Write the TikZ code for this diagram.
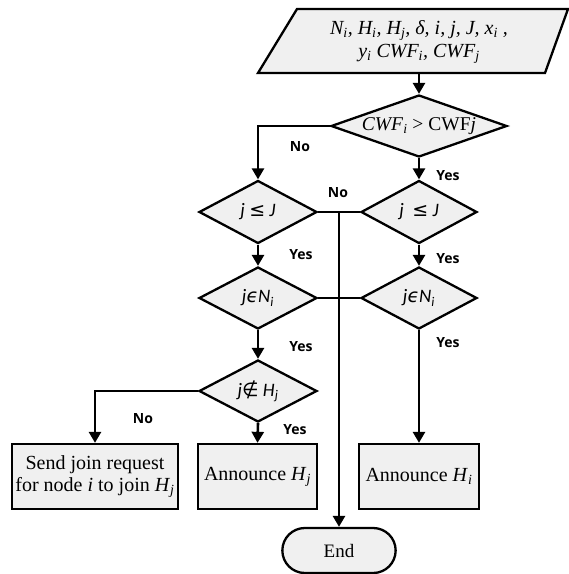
\documentclass[tikz,border=0pt]{standalone}
\usepackage{fontspec}
\setmainfont{Liberation Serif}
\newfontfamily\lblfont{Open Sans}
\newfontfamily\dmdfont{Carlito}
\newfontfamily\symfont{DejaVu Sans}
\usetikzlibrary{shapes.geometric,shapes.misc,arrows.meta}

\newcommand{\vsub}[2]{\textit{#1}\textsubscript{\textit{#2}}}

\tikzset{
  dmd/.style={diamond, draw, line width=2.3pt, fill=black!6, aspect=1.87,
    minimum width=118pt, minimum height=63pt, inner sep=0pt,
    font=\dmdfont\itshape\fontsize{19}{21}\selectfont},
  box/.style={rectangle, draw, line width=2.3pt, fill=black!6, minimum height=65pt,
    inner sep=2pt, align=center, font=\fontsize{20}{22}\selectfont},
  lbl/.style={font=\lblfont\bfseries\fontsize{14}{16}\selectfont},
  lin/.style={line width=2.6pt},
  arr/.style={line width=2.6pt, -{Triangle[length=11pt,width=12pt]}},
}

\begin{document}
\begin{tikzpicture}[x=1pt,y=-1pt]

\useasboundingbox (0,0) rectangle (569,574);

% input
\draw[line width=2.3pt, fill=black!6] (258,73) -- (297,9) -- (568,9) -- (545,73) -- cycle;
\node[minimum height=64pt, align=center, font=\itshape\fontsize{20}{23}\selectfont] (input) at (419,42)
  {\vsub{N}{i}, \vsub{H}{i}, \vsub{H}{j}, δ, \textit{i}, \textit{j}, \textit{J}, \vsub{x}{i} ,\\
   \vsub{y}{i} \vsub{CWF}{i}, \vsub{CWF}{j}};

% tests
\node[dmd, aspect=2.8, minimum width=176pt, minimum height=62pt, font=\fontsize{19.5}{21}\selectfont] (cwf) at (419,126)
  {\vsub{CWF}{i} > CWF\textit{j}};
\node[dmd] (lj) at (258,212) {j {\symfont ≤} J};
\node[dmd, minimum width=116pt] (rj) at (419,212) {j \ {\symfont ≤} J};
\node[dmd, minimum height=62pt] (lN) at (258,298) {j{\symfont ϵ}N\textsubscript{i}};
\node[dmd, minimum width=116pt, minimum height=62pt] (rN) at (419,298) {j{\symfont ϵ}N\textsubscript{i}};
\node[dmd, minimum height=62pt] (lH) at (258,391) {j{\symfont ∉} H\textsubscript{j}};

% actions
\node[box, minimum width=166pt] (join) at (95,476.5)
  {Send join request\\for node \textit{i} to join \vsub{H}{j}};
\node[box, minimum width=119pt] (annj) at (257.5,476.5) {Announce \vsub{H}{j}};
\node[box, minimum width=120pt] (anni) at (419,476.5) {Announce \vsub{H}{i}};
\node[rounded rectangle, draw, line width=2.3pt, fill=black!6, minimum width=120pt,
  minimum height=45pt, font=\fontsize{19}{21}\selectfont] (end) at (339,550.5) {End};

\coordinate (nojoin) at (339,212);

% labels
\node[lbl] (no1) at (300,147) {No};
\node[lbl] (yes1) at (448,176) {Yes};
\node[lbl] (no2) at (338,193) {No};
\node[lbl] (yes2) at (301,255) {Yes};
\node[lbl] (yes3) at (448,259) {Yes};
\node[lbl] (yes4) at (301,347) {Yes};
\node[lbl] (yes5) at (448,343) {Yes};
\node[lbl] (no3) at (143,419) {No};
\node[lbl] (yes6) at (295,430) {Yes};

\draw[arr] (input.south) -- (cwf.north);
\draw[arr] (cwf.west) -| (lj.north);   % no
\draw[arr] (cwf.south) -- (rj.north);  % yes

\draw[lin] (lj.east) -- (rj.west);
\draw[lin] (lN.east) -- (rN.west);
\draw[arr] (nojoin) -- (end.north);

\draw[arr] (lj.south) -- (lN.north);
\draw[arr] (lN.south) -- (lH.north);
\draw[arr] (lH.west) -| (join.north);
\draw[arr] (lH.south) -- (annj.north);

\draw[arr] (rj.south) -- (rN.north);
\draw[arr] (rN.south) -- (anni.north);

\end{tikzpicture}
\end{document}
